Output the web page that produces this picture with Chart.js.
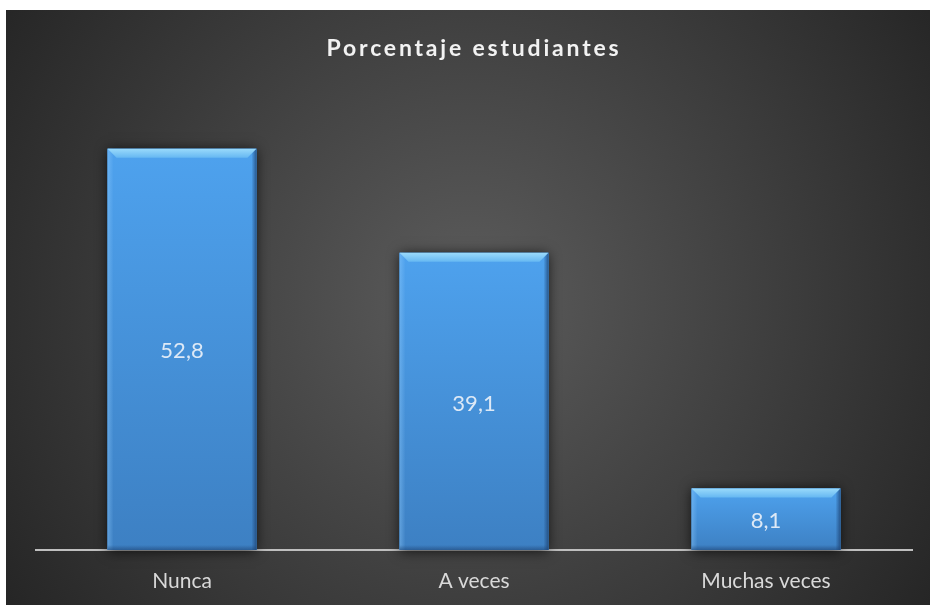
<!DOCTYPE html>
<html><head><meta charset="utf-8">
<script src="https://cdn.jsdelivr.net/npm/chart.js@4/dist/chart.umd.min.js"></script>
<style>html,body{margin:0;padding:0;background:#fff;overflow:hidden}#wrap{width:930px;height:606px;position:relative}canvas{display:block}</style>
</head><body><div id="wrap"><canvas id="c" width="930" height="606"></canvas></div>
<script>
const categories = ['Nunca', 'A veces', 'Muchas veces'];
const values = [52.8, 39.1, 8.1];
const titleText = 'Porcentaje estudiantes';
const yMax = 60;

const fmt = v => v.toFixed(1).replace('.', ',');

const bgPlugin = {
  id: 'bg',
  beforeDraw(chart) {
    const ctx = chart.ctx;
    ctx.save();
    ctx.fillStyle = '#ffffff';
    ctx.fillRect(0, 0, chart.width, chart.height);
    const x0 = 6, y0 = 10, x1 = chart.width, y1 = chart.height - 1;
    const g = ctx.createRadialGradient(470, 300, 0, 470, 300, 560);
    g.addColorStop(0, '#5c5c5c');
    g.addColorStop(1, '#252525');
    ctx.fillStyle = g;
    ctx.fillRect(x0, y0, x1 - x0, y1 - y0);
    ctx.restore();
  }
};

const titlePlugin = {
  id: 'spacedTitle',
  afterDraw(chart) {
    const ctx = chart.ctx;
    ctx.save();
    ctx.font = 'bold 23px Lato';
    if ('letterSpacing' in ctx) ctx.letterSpacing = '2.8px';
    ctx.fillStyle = '#f2f2f2';
    ctx.textAlign = 'center';
    ctx.textBaseline = 'middle';
    ctx.fillText(titleText, 474, 49);
    ctx.restore();
  }
};

const shadowPlugin = {
  id: 'barShadow',
  beforeDatasetsDraw(chart) {
    const ctx = chart.ctx;
    const meta = chart.getDatasetMeta(0);
    ctx.save();
    meta.data.forEach(el => {
      const p = el.getProps(['x', 'y', 'base', 'width'], true);
      ctx.shadowColor = 'rgba(0,0,0,0.75)';
      ctx.shadowBlur = 12;
      ctx.shadowOffsetX = 0;
      ctx.shadowOffsetY = 1;
      ctx.fillStyle = '#1e2a36';
      ctx.fillRect(p.x - p.width / 2, p.y, p.width, p.base - p.y);
    });
    ctx.restore();
  }
};

const bevelPlugin = {
  id: 'bevel',
  afterDatasetsDraw(chart) {
    const ctx = chart.ctx;
    const meta = chart.getDatasetMeta(0);
    ctx.save();
    meta.data.forEach((el, i) => {
      const p = el.getProps(['x', 'y', 'base', 'width'], true);
      const l = p.x - p.width / 2, r = p.x + p.width / 2, t = p.y, b = p.base, h = b - t;
      const g = ctx.createLinearGradient(0, t, 0, b);
      g.addColorStop(0, '#4ea2ee');
      g.addColorStop(1, '#3d80c3');
      ctx.fillStyle = g;
      ctx.fillRect(l, t, p.width, h);
      const gl = ctx.createLinearGradient(l, 0, l + 6, 0);
      gl.addColorStop(0, 'rgba(140,200,250,0.45)');
      gl.addColorStop(1, 'rgba(140,200,250,0)');
      ctx.fillStyle = gl;
      ctx.fillRect(l, t, 6, h);
      const gr = ctx.createLinearGradient(r - 5, 0, r, 0);
      gr.addColorStop(0, 'rgba(30,70,120,0)');
      gr.addColorStop(1, 'rgba(30,70,120,0.8)');
      ctx.fillStyle = gr;
      ctx.fillRect(r - 5, t, 5, h);
      const gb = ctx.createLinearGradient(0, b - 5, 0, b);
      gb.addColorStop(0, 'rgba(30,70,120,0)');
      gb.addColorStop(1, 'rgba(30,70,120,0.6)');
      ctx.fillStyle = gb;
      ctx.fillRect(l, b - 5, p.width, 5);
      const d = 9;
      const gt = ctx.createLinearGradient(0, t, 0, t + d);
      gt.addColorStop(0, '#9adafb');
      gt.addColorStop(1, '#66b8f2');
      ctx.fillStyle = gt;
      ctx.beginPath();
      ctx.moveTo(l, t);
      ctx.lineTo(r, t);
      ctx.lineTo(r - d, t + d);
      ctx.lineTo(l + d, t + d);
      ctx.closePath();
      ctx.fill();
    });
    ctx.font = '22px Lato';
    ctx.fillStyle = '#dde9f6';
    ctx.textAlign = 'center';
    ctx.textBaseline = 'middle';
    meta.data.forEach((el, i) => {
      const p = el.getProps(['x', 'y', 'base'], true);
      ctx.fillText(fmt(values[i]), p.x, (p.y + p.base) / 2 + 2);
    });
    ctx.restore();
  }
};

new Chart(document.getElementById('c'), {
  type: 'bar',
  data: {
    labels: categories,
    datasets: [{
      data: values,
      backgroundColor: '#4799e6',
      borderWidth: 0,
      categoryPercentage: 1,
      barPercentage: 0.51
    }]
  },
  options: {
    responsive: false,
    animation: false,
    devicePixelRatio: 1,
    layout: { padding: { left: 36, right: 18, top: 94, bottom: 0 } },
    plugins: { legend: { display: false }, tooltip: { enabled: false }, title: { display: false } },
    scales: {
      x: {
        grid: { display: false, drawTicks: false },
        border: { display: true, color: '#bfbfbf', width: 2 },
        ticks: { color: '#d9d9d9', font: { family: 'Lato', size: 21 }, padding: 19 },
        afterFit(s) { s.height = 56; }
      },
      y: { display: false, min: 0, max: yMax }
    }
  },
  plugins: [bgPlugin, shadowPlugin, bevelPlugin, titlePlugin]
});
</script>
</body></html>
